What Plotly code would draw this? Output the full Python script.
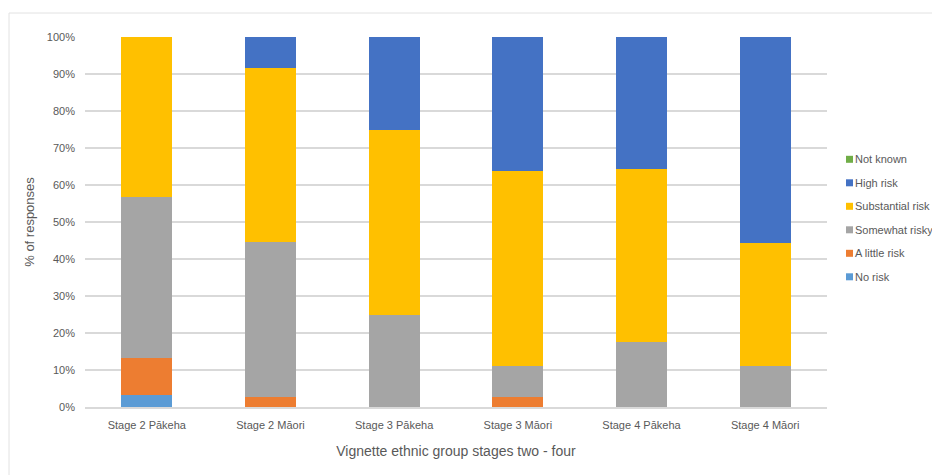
import plotly.graph_objects as go

# Vignette categories (x axis)
categories = ["Stage 2 Pākeha", "Stage 2 Māori", "Stage 3 Pākeha",
              "Stage 3 Māori", "Stage 4 Pākeha", "Stage 4 Māori"]

# Percentage of responses per risk rating
no_risk = [3.3, 0, 0, 0, 0, 0]
a_little_risk = [10.0, 2.8, 0, 2.8, 0, 0]
somewhat_risky = [43.4, 41.7, 25.0, 8.3, 17.6, 11.1]
substantial_risk = [43.3, 47.2, 50.0, 52.8, 46.7, 33.3]
high_risk = [0, 8.3, 25.0, 36.1, 35.7, 55.6]
not_known = [0, 0, 0, 0, 0, 0]

series_names = ["No risk", "A little risk", "Somewhat risky",
                "Substantial risk", "High risk", "Not known"]
series_values = [no_risk, a_little_risk, somewhat_risky,
                 substantial_risk, high_risk, not_known]
series_colors = ["#5B9BD5", "#ED7D31", "#A5A5A5", "#FFC000", "#4472C4", "#70AD47"]

W, H = 932, 475
L, R, T, B = 85, 105, 37, 68
PW, PH = W - L - R, H - T - B
FONT = "Liberation Sans"
TXT = "#595959"


def px_x(x):
    return (x - L) / PW


def px_y(y):
    return (H - B - y) / PH


fig = go.Figure()
for name, vals, col in zip(series_names, series_values, series_colors):
    fig.add_trace(go.Bar(x=categories, y=vals, name=name,
                         marker=dict(color=col, line=dict(width=0)),
                         showlegend=False))

shapes = []
annotations = []

# outer chart border
shapes.append(dict(type="rect", xref="paper", yref="paper",
                   x0=px_x(9), x1=px_x(960), y0=px_y(500), y1=px_y(13),
                   line=dict(color="#e2e2e2", width=1), fillcolor="rgba(0,0,0,0)",
                   layer="below"))

# legend, listed top series first
legend_y0, legend_step = 159.3, 23.5
for i, (name, col) in enumerate(zip(series_names[::-1], series_colors[::-1])):
    yc = legend_y0 + i * legend_step
    shapes.append(dict(type="rect", xref="paper", yref="paper",
                       x0=px_x(846), x1=px_x(853), y0=px_y(yc + 3.5), y1=px_y(yc - 3.5),
                       line=dict(width=0), fillcolor=col))
    annotations.append(dict(text=name, xref="paper", yref="paper",
                            x=px_x(853), y=px_y(yc), xanchor="left", yanchor="middle",
                            showarrow=False, font=dict(family=FONT, size=11, color=TXT)))

fig.update_layout(
    width=W, height=H,
    margin=dict(l=L, r=R, t=T, b=B, autoexpand=False),
    barmode="stack", bargap=0.59,
    paper_bgcolor="white", plot_bgcolor="white",
    font=dict(family=FONT, color=TXT),
    shapes=shapes, annotations=annotations,
    xaxis=dict(showgrid=False, showline=True, linecolor="#d9d9d9", linewidth=1.5,
               tickfont=dict(size=11, color=TXT), ticks="", ticklabelstandoff=7,
               title=dict(text="Vignette ethnic group stages two - four",
                          font=dict(size=14, color=TXT), standoff=16)),
    yaxis=dict(range=[0, 100], dtick=10, ticksuffix="%", showgrid=True,
               gridcolor="#d9d9d9", gridwidth=1.5, zeroline=False,
               tickfont=dict(size=11, color=TXT), ticklabelstandoff=9,
               title=dict(text="% of responses", font=dict(size=13, color=TXT),
                          standoff=9)),
)

fig.write_html("out.html")
